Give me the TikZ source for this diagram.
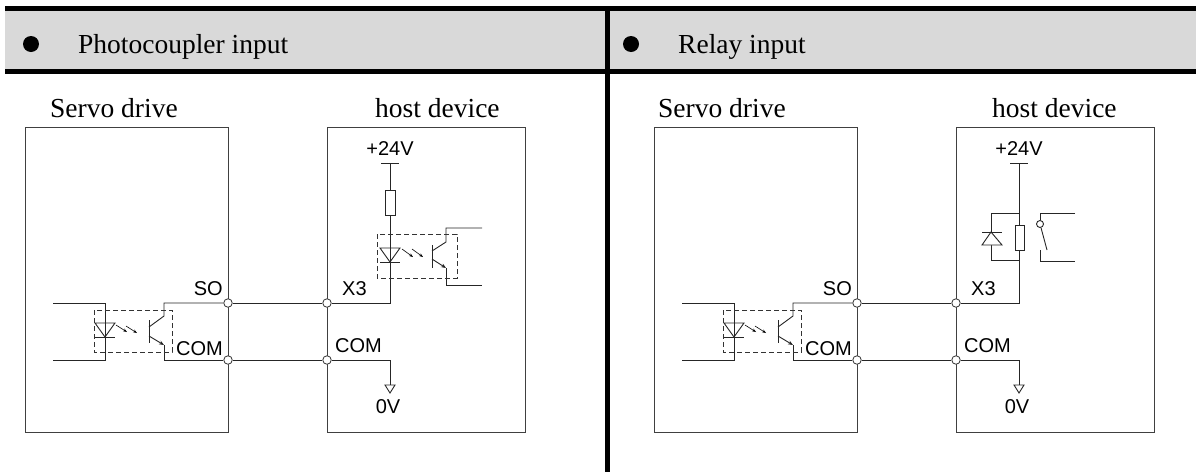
\documentclass[tikz,border=0pt]{standalone}
\usepackage{fontspec}
\setmainfont{Liberation Serif}
\setsansfont{Liberation Sans}
\usetikzlibrary{arrows.meta}

\begin{document}
\begin{tikzpicture}[x=1pt,y=-1pt,
    wire/.style={line width=0.9pt, black!85},
    frame/.style={draw=black!75, line width=1pt},
    term/.style={circle, draw=black!80, fill=white, line width=0.8pt, inner sep=0pt, minimum size=8.5pt},
    pin/.style={font=\sffamily\fontsize{20}{20}\selectfont, inner sep=0pt},
    heading/.style={font=\fontsize{27.5}{27.5}\selectfont, inner sep=0pt, anchor=base west},
    optobox/.style={draw=black!80, line width=0.8pt, dash pattern=on 5pt off 3pt},
    light/.style={-{Stealth[length=4pt,width=3pt]}, line width=0.6pt},
    emit/.style={wire, -{Stealth[length=5pt,width=4pt]}},
    sep/.style={line width=5pt, black}]
\useasboundingbox (0,0) rectangle (1196,472);

% header band
\fill[black!15] (5,10) rectangle (1196,69);
\draw[sep] (5,8) -- (1196,8);
\draw[sep] (5,71) -- (1196,71);
\draw[sep] (607,6) -- (607,472);
\fill (31,44) circle (8);
\fill (631,44) circle (8);
\node[heading] (hdPhoto) at (78,53) {Photocoupler input};
\node[heading] (hdRelay) at (678,53) {Relay input};

\node[heading] (servoL) at (50,117) {Servo drive};
\node[heading] (hostL) at (375,117) {host device};
\node[heading] (servoR) at (658,117) {Servo drive};
\node[heading] (hostR) at (992,117) {host device};

% parts common to both panels
\foreach \dx/\p in {0/L,629/R}{
  \begin{scope}[xshift=\dx]
    \draw[frame] (25,127) rectangle (228,432);
    \draw[frame] (327,127) rectangle (525,432);
    \node[term] (so\p) at (228,303) {};
    \node[term] (cs\p) at (228,360) {};
    \node[term] (x3\p) at (327,303) {};
    \node[term] (ch\p) at (327,360) {};
    \draw[wire] (so\p) -- (x3\p);
    \draw[wire] (cs\p) -- (ch\p);
    % servo side photocoupler
    \draw[wire] (53,303) -- (105,303) -- (105,360) -- (53,360);
    \draw[wire] (95,323) -- (115,323) -- (105,337) -- cycle;
    \draw[wire] (95,337) -- (115,337);
    \draw[light] (116,325) -- (127,332);
    \draw[light] (126,326) -- (137,333);
    \draw[wire] (149,320) -- (149,343);
    \draw[wire] (so\p.west) -- (164,303) -- (164,316) -- (149,327);
    \draw[wire] (cs\p.west) -- (164,360) -- (164,345);
    \draw[emit] (149,336) -- (164,345);
    \draw[optobox] (94,310) rectangle (172,352);
    % 0V return
    \draw[wire] (ch\p.east) -- (390,360) -- (390,385);
    \draw[wire] (385,385) -- (395,385) -- (390,393) -- cycle;
    \draw[wire] (381,163) -- (399,163);
    \node[pin, anchor=base east] (lso\p) at (223,295) {SO};
    \node[pin, anchor=base east] (lcs\p) at (223,355) {COM};
    \node[pin, anchor=base west] (lx3\p) at (342,295) {X3};
    \node[pin, anchor=base west] (lch\p) at (335,352) {COM};
    \node[pin, anchor=base] (lvcc\p) at (390,155) {+24V};
    \node[pin, anchor=base] (lgnd\p) at (388,413) {0V};
  \end{scope}
}

% host photocoupler
\draw[wire] (390,163) -- (390,190);
\draw[wire] (385,190) rectangle (395,215);
\draw[wire] (390,215) -- (390,303) -- (x3L.east);
\draw[wire] (380,248) -- (400,248) -- (390,262) -- cycle;
\draw[wire] (380,262) -- (400,262);
\draw[light] (402,249) -- (413,257);
\draw[light] (412,249) -- (423,257);
\draw[wire] (432,245) -- (432,268);
\draw[wire] (432,251) -- (446,242) -- (446,228) -- (482,228);
\draw[emit] (432,259) -- (446,268);
\draw[wire] (446,268) -- (446,285) -- (482,285);
\draw[optobox] (377,234) rectangle (457,278);

% host relay
\begin{scope}[xshift=629]
  \draw[wire] (390,163) -- (390,303) -- (x3R.east);
  \draw[wire, fill=white] (386,225) rectangle (395,250);
  \draw[wire] (390,213) -- (362,213) -- (362,260) -- (390,260);
  \draw[wire, fill=white] (353,245) -- (373,245) -- (362,232) -- cycle;
  \draw[wire] (353,232) -- (373,232);
  \node[circle, draw=black!85, line width=0.9pt, inner sep=0pt, minimum size=7pt] (ct) at (411,224) {};
  \draw[wire] (446,213) -- (411,213) -- (ct.north);
  \draw[wire] (ct) -- (418,250);
  \draw[wire] (411,250) -- (411,261) -- (446,261);
\end{scope}
\end{tikzpicture}
\end{document}
